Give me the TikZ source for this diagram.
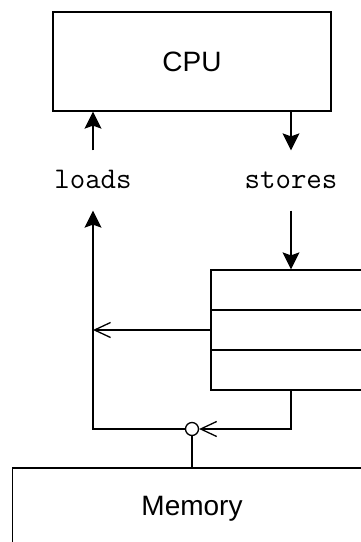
\documentclass[tikz,border=0pt]{standalone}
\usepackage{fontspec}
\setmainfont{Liberation Sans}
\usetikzlibrary{arrows.meta,positioning}
\tikzset{
  unit/.style = {rectangle, draw=black, line width=1.3pt, inner sep=0pt,
    font=\fontsize{28}{30}\selectfont},% cpu, memory
  slot/.style = {rectangle, draw=black, line width=1.3pt, inner sep=0pt,
    minimum width=160pt, minimum height=40pt},% one buffer entry
  op/.style = {inner sep=0pt, font=\ttfamily\fontsize{30}{32}\selectfont,
    text height=15pt, text depth=0pt, minimum height=59pt},% loads / stores
  joint/.style = {circle, draw=black, fill=white, line width=1.3pt,
    inner sep=0pt, minimum size=13pt}
}

\begin{document}
\begin{tikzpicture}[x=1pt,y=-1pt,line width=1.3pt,
    fillhead/.style={-{Stealth[length=17pt,width=17pt,inset=3pt]}},
    openhead/.style={-{Straight Barb[length=16pt,width=15pt]}}]
    \clip (0,0) rectangle (361,542);
    \node [unit, minimum width=278pt, minimum height=99pt](cpu) at (192,61.5) {CPU};
    \node [op](loads) at (93,180.5) {loads};
    \node [op](stores) at (291,180.5) {stores};
    \foreach \i in {1,2,3}
        \node [slot](buf\i) at (291,250+40*\i) {};
    \node [unit, minimum width=359pt, minimum height=82pt](mem) at (192,509) {Memory};
    \node [joint](jn) at (192,429) {};

    \draw [fillhead] (loads.north) -- (loads.north |- cpu.south);
    \draw [fillhead] (stores.north |- cpu.south) -- (stores.north);
    \draw [fillhead] (stores.south) -- (buf1.north);
    \draw [openhead] (buf2.west) -- (buf2.west -| loads);
    \draw [openhead] (buf3.south) |- (jn.east);
    \draw [fillhead] (jn.west) -| (loads.south);
    \draw (mem.north) -- (jn.south);
\end{tikzpicture}
\end{document}
